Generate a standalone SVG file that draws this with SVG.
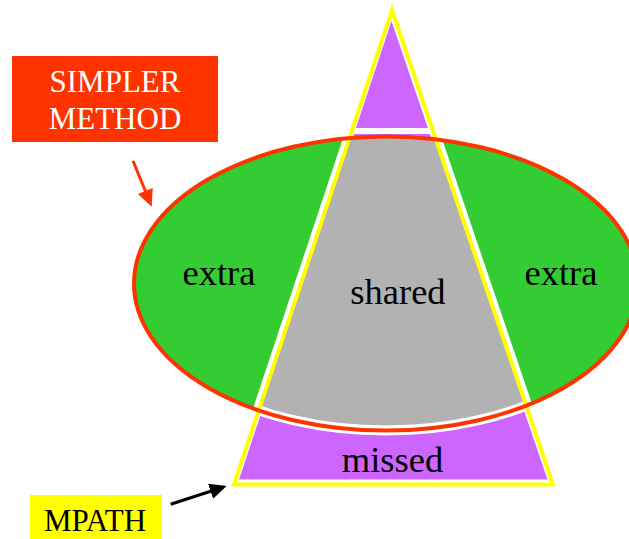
<svg xmlns="http://www.w3.org/2000/svg" width="629" height="539" viewBox="0 0 629 539">
<style>
text{font-family:"Liberation Serif","DejaVu Serif","Times New Roman",serif;text-anchor:middle}
.big{font-size:36.5px;fill:#000}
.box{font-size:31px}
</style>
<defs>
<clipPath id="clipE"><ellipse cx="386" cy="283.5" rx="252" ry="147"/></clipPath>
<clipPath id="clipT"><polygon points="392,10 234,484.5 553,484.5"/></clipPath>
<clipPath id="clipB"><rect x="0" y="300" width="629" height="239"/></clipPath>
<marker id="hRed" markerUnits="userSpaceOnUse" markerWidth="18" markerHeight="17" refX="13" refY="8" orient="auto"><path d="M0,0 L17,8 L0,16 z" fill="#FF3300"/></marker>
<marker id="hBlack" markerUnits="userSpaceOnUse" markerWidth="18" markerHeight="17" refX="13" refY="8" orient="auto"><path d="M0,0 L17,8 L0,16 z" fill="#000"/></marker>
</defs>
<rect width="629" height="539" fill="#fff"/>
<g id="venn">
<ellipse cx="386" cy="283.5" rx="252" ry="147" fill="#33CC33"/>
<polygon points="392,10 234,484.5 553,484.5" fill="#fff" stroke="#fff" stroke-width="12" stroke-linejoin="round"/>
<polygon points="391.5,21 239,479.5 547.5,479.5" fill="#CC66FF"/>
<polygon points="392,10 234,484.5 553,484.5" fill="#B2B2B2" clip-path="url(#clipE)"/>
<g clip-path="url(#clipB)">
<ellipse cx="386" cy="283.5" rx="252" ry="147" fill="none" stroke="#fff" stroke-width="10" clip-path="url(#clipT)"/>
</g>
<rect x="340" y="128" width="100" height="6" fill="#fff" clip-path="url(#clipT)"/>
<polygon points="392,10 234,484.5 553,484.5" fill="none" stroke="#FFFF00" stroke-width="4"/>
<ellipse cx="386" cy="283.5" rx="252" ry="147" fill="none" stroke="#FF3300" stroke-width="4"/>
</g>
<g id="extra-left"><text class="big" x="219" y="285" font-family="Liberation Serif, serif">extra</text></g>
<g id="extra-right"><text class="big" x="561" y="284.5" font-family="Liberation Serif, serif">extra</text></g>
<g id="shared"><text class="big" x="398" y="304" font-family="Liberation Serif, serif">shared</text></g>
<g id="missed"><text class="big" x="392.5" y="471.5" font-family="Liberation Serif, serif">missed</text></g>
<g id="simpler-method">
<rect x="12" y="56" width="206" height="86" fill="#FF3300"/>
<text class="box" x="115" y="92" fill="#fff" font-family="Liberation Serif, serif">SIMPLER</text>
<text class="box" x="115" y="129" fill="#fff" font-family="Liberation Serif, serif">METHOD</text>
</g>
<g id="mpath">
<rect x="30" y="495" width="132" height="44" fill="#FFFF00"/>
<text class="box" x="95" y="531" fill="#000" font-family="Liberation Serif, serif">MPATH</text>
</g>
<g id="connectors">
<line x1="133" y1="160.7" x2="150.2" y2="203" stroke="#FF3300" stroke-width="3" marker-end="url(#hRed)"/>
<line x1="170.7" y1="504.3" x2="222.9" y2="487.2" stroke="#000" stroke-width="3" marker-end="url(#hBlack)"/>
</g>
</svg>
